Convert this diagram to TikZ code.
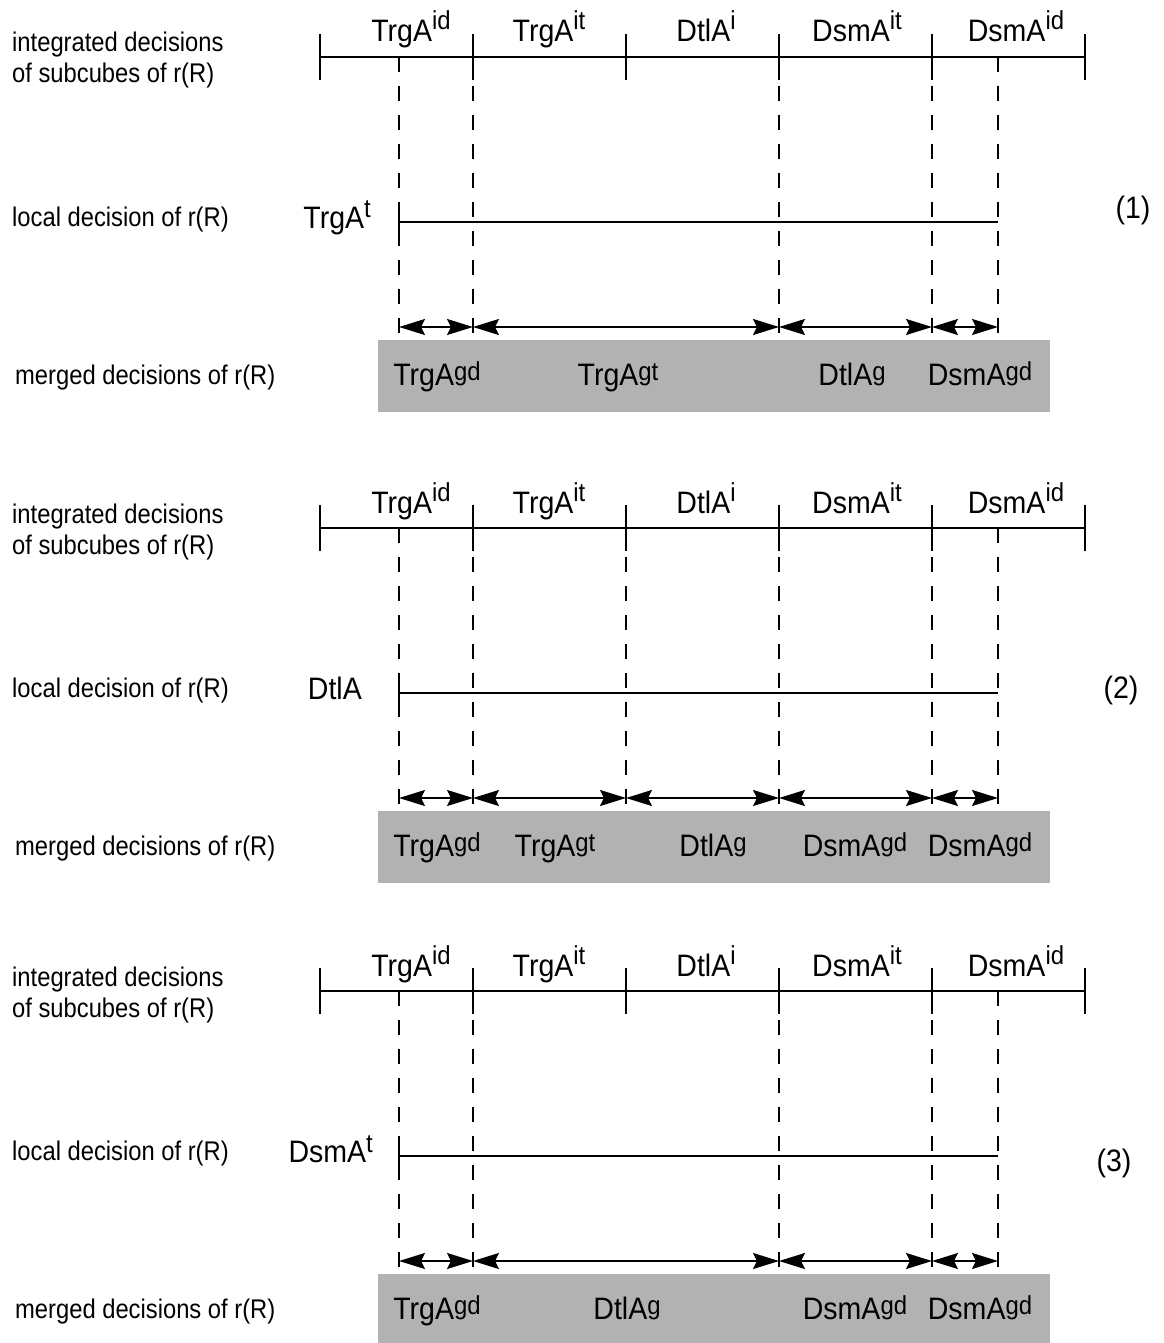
\documentclass[tikz,border=0pt]{standalone}
\usepackage{fontspec}
\setmainfont[FakeStretch=0.88]{Liberation Sans}
\newfontfamily\tagfont[FakeStretch=0.92]{Liberation Sans}
\usetikzlibrary{arrows.meta}

% superscripts: raised high above a plain label, low beside a strip label
\newcommand\hisup[1]{\raisebox{12pt}{\fontsize{26}{26}\selectfont #1}}
\newcommand\midsup[1]{\raisebox{10pt}{\fontsize{26}{26}\selectfont #1}}
\newcommand\losup[1]{\raisebox{5pt}{\fontsize{26}{26}\selectfont #1}}

\begin{document}
\begin{tikzpicture}[x=1pt,y=-1pt,
  caption/.style={font=\fontsize{27}{31}\selectfont, inner sep=0pt},
  tag/.style={font=\tagfont\fontsize{31}{33}\selectfont, inner sep=0pt},
  axis/.style={line width=2pt},
  guide/.style={line width=2pt, dash pattern=on 15pt off 14pt},
  span/.style={line width=2pt,
    {Stealth[length=26pt,width=16pt,inset=4pt]}-{Stealth[length=26pt,width=16pt,inset=4pt]}},
  strip/.style={fill=black!30, draw=none}]
\useasboundingbox (0,0) rectangle (1163,1343);

% parts shared by the three cases
\foreach \k/\o in {1/0, 2/471, 3/934} {
  % row captions
  \node[caption, anchor=base west] (int\k-a) at (12, 52+\o) {integrated decisions};
  \node[caption, anchor=base west] (int\k-b) at (12, 83+\o) {of subcubes of r(R)};
  \node[caption, anchor=base west] (loc\k) at (12, 226+\o) {local decision of r(R)};
  \node[caption, anchor=base west] (mrg\k) at (15, 384+\o) {merged decisions of r(R)};
  % merged strip
  \fill[strip] (378, 340+\o) rectangle (1050, {min(412+\o,1343)});
  % axis of integrated decisions with its ticks
  \foreach \j/\x in {0/320,1/473,2/626,3/779,4/932,5/1085} {
    \coordinate (ax\k-\j) at (\x, 57+\o);
    \draw[axis] (\x, 34+\o) -- (\x, 80+\o);
  }
  \draw[axis] (ax\k-0) -- (ax\k-5);
  % labels over the axis
  \node[tag, anchor=base] (ti\k-1) at (411, 42+\o) {TrgA\hisup{id}};
  \node[tag, anchor=base] (ti\k-2) at (549, 42+\o) {TrgA\hisup{it}};
  \node[tag, anchor=base] (ti\k-3) at (706, 42+\o) {DtlA\hisup{i}};
  \node[tag, anchor=base] (ti\k-4) at (857, 42+\o) {DsmA\hisup{it}};
  \node[tag, anchor=base] (ti\k-5) at (1016, 42+\o) {DsmA\hisup{id}};
  % guide lines, top and bottom ends
  \foreach \x in {399,473,626,779,932,998} {
    \coordinate (gt\k-\x) at (\x, 57+\o);
    \coordinate (gb\k-\x) at (\x, 335+\o);
  }
  % local decision line
  \coordinate (ls\k) at (399, 222+\o);
  \coordinate (le\k) at (998, 222+\o);
  \draw[axis] (ls\k) -- (le\k);
  \draw[axis] ([yshift=-14pt]ls\k) -- ([yshift=14pt]ls\k);
  % arrow row anchors
  \foreach \x in {399,473,626,779,932,998} {
    \coordinate (ar\k-\x) at (\x, 327+\o);
  }
}

% ---- case (1)
\foreach \x in {399,473,779,932,998} \draw[guide] (gt1-\x) -- (gb1-\x);
\node[tag, anchor=base east] (lt1) at (371, 228) {TrgA\midsup{t}};
\node[tag] (n1) at (1133, 210) {(1)};
\draw[span] (ar1-399) -- (ar1-473);
\draw[span] (ar1-473) -- (ar1-779);
\draw[span] (ar1-779) -- (ar1-932);
\draw[span] (ar1-932) -- (ar1-998);
\node[tag, anchor=base] (m1-1) at (437, 385) {TrgA\losup{gd}};
\node[tag, anchor=base] (m1-2) at (618, 385) {TrgA\losup{gt}};
\node[tag, anchor=base] (m1-3) at (852, 385) {DtlA\losup{g}};
\node[tag, anchor=base] (m1-4) at (980, 385) {DsmA\losup{gd}};

% ---- case (2)
\foreach \x in {399,473,626,779,932,998} \draw[guide] (gt2-\x) -- (gb2-\x);
\node[tag, anchor=base east] (lt2) at (362, 699) {DtlA};
\node[tag] (n2) at (1121, 690) {(2)};
\draw[span] (ar2-399) -- (ar2-473);
\draw[span] (ar2-473) -- (ar2-626);
\draw[span] (ar2-626) -- (ar2-779);
\draw[span] (ar2-779) -- (ar2-932);
\draw[span] (ar2-932) -- (ar2-998);
\node[tag, anchor=base] (m2-1) at (437, 856) {TrgA\losup{gd}};
\node[tag, anchor=base] (m2-2) at (555, 856) {TrgA\losup{gt}};
\node[tag, anchor=base] (m2-3) at (713, 856) {DtlA\losup{g}};
\node[tag, anchor=base] (m2-4) at (855, 856) {DsmA\losup{gd}};
\node[tag, anchor=base] (m2-5) at (980, 856) {DsmA\losup{gd}};

% ---- case (3)
\foreach \x in {399,473,779,932,998} \draw[guide] (gt3-\x) -- (gb3-\x);
\node[tag, anchor=base east] (lt3) at (373, 1162) {DsmA\midsup{t}};
\node[tag] (n3) at (1114, 1163) {(3)};
\draw[span] (ar3-399) -- (ar3-473);
\draw[span] (ar3-473) -- (ar3-779);
\draw[span] (ar3-779) -- (ar3-932);
\draw[span] (ar3-932) -- (ar3-998);
\node[tag, anchor=base] (m3-1) at (437, 1319) {TrgA\losup{gd}};
\node[tag, anchor=base] (m3-2) at (627, 1319) {DtlA\losup{g}};
\node[tag, anchor=base] (m3-3) at (855, 1319) {DsmA\losup{gd}};
\node[tag, anchor=base] (m3-4) at (980, 1319) {DsmA\losup{gd}};
\end{tikzpicture}
\end{document}
